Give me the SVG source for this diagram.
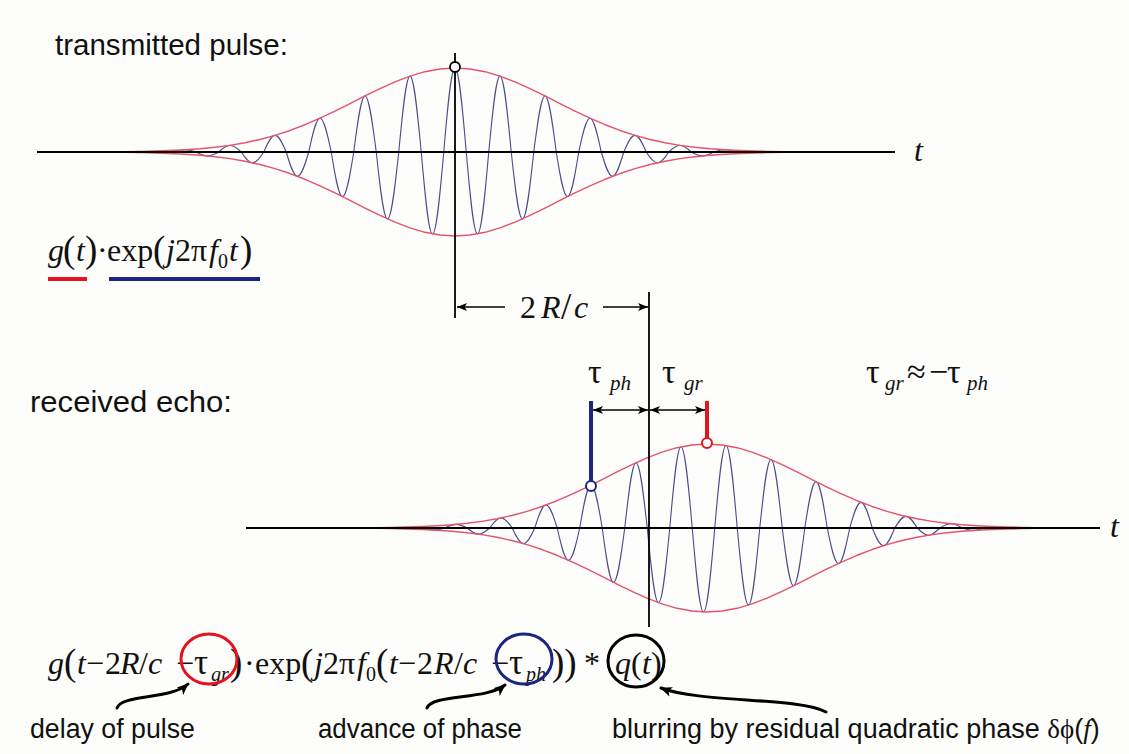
<svg xmlns="http://www.w3.org/2000/svg" width="1129" height="754" viewBox="0 0 1129 754">
<style>
.bg{fill:#fdfdfb}
.env{fill:none;stroke:#e2546c;stroke-width:1.4;stroke-linejoin:round}
.car{fill:none;stroke:#4d4d8e;stroke-width:1.1}
.axis{stroke:#000;stroke-width:2;fill:none}
.vline{stroke:#000;stroke-width:1.8;fill:none}
.dim{stroke:#000;stroke-width:1.6;fill:none}
.curve{stroke:#000;stroke-width:3;fill:none;stroke-linecap:round}
.sans{font-family:"Liberation Sans",Arial,sans-serif;fill:#111}
.title{font-size:29px}
.lab{font-size:27px}
.math{font-family:"Liberation Serif","Times New Roman",serif;font-size:32px;fill:#111}
.it{font-style:italic}
.sub{font-size:20px}
.big{font-size:37px}
.tau{font-size:35px}
.greek{font-family:"Liberation Serif","Times New Roman",serif;font-size:34px;fill:#111}
.gsub{font-size:21px;font-style:italic}
</style>
<defs>
<marker id="ah" markerWidth="10" markerHeight="8" refX="10" refY="4" orient="auto-start-reverse" markerUnits="userSpaceOnUse"><path d="M0,0 L10,4 L0,8 L2.5,4 z" fill="#000"/></marker>
<marker id="ah2" markerWidth="12" markerHeight="10" refX="11" refY="5" orient="auto" markerUnits="userSpaceOnUse"><path d="M0,0 L12,5 L0,10 L3,5 z" fill="#000"/></marker>
<path id="envUp" d="M-345,-0.2 L-330,-0.36 L-315,-0.59 L-300,-0.93 L-285,-1.45 L-270,-2.19 L-255,-3.25 L-240,-4.71 L-225,-6.68 L-210,-9.26 L-195,-12.55 L-180,-16.62 L-165,-21.53 L-150,-27.27 L-135,-33.77 L-120,-40.89 L-105,-48.40 L-90,-56.03 L-75,-63.41 L-60,-70.16 L-45,-75.91 L-30,-80.30 L-15,-83.06 L0,-84 L15,-83.06 L30,-80.30 L45,-75.91 L60,-70.16 L75,-63.41 L90,-56.03 L105,-48.40 L120,-40.89 L135,-33.77 L150,-27.27 L165,-21.53 L180,-16.62 L195,-12.55 L210,-9.26 L225,-6.68 L240,-4.71 L255,-3.25 L270,-2.19 L285,-1.45 L300,-0.93 L315,-0.59 L330,-0.36 L345,-0.2"/>
</defs>
<rect class="bg" x="0" y="0" width="1129" height="754"/>

<g id="transmitted-pulse">
<g transform="translate(455,152)">
<path class="car" d="M-281.25,0 C-277.58,-1.12 -274.07,-2.19 -270,-2.19 C-265.93,-2.19 -262.42,-1.12 -258.75,0 C-255.08,2.01 -251.57,3.93 -247.5,3.93 C-243.43,3.93 -239.92,2.01 -236.25,0 C-232.58,-3.42 -229.07,-6.68 -225,-6.68 C-220.93,-6.68 -217.42,-3.42 -213.75,0 C-210.08,5.54 -206.57,10.81 -202.5,10.81 C-198.43,10.81 -194.92,5.54 -191.25,0 C-187.58,-8.51 -184.07,-16.62 -180,-16.62 C-175.93,-16.62 -172.42,-8.51 -168.75,0 C-165.08,12.45 -161.57,24.30 -157.5,24.30 C-153.43,24.30 -149.92,12.45 -146.25,0 C-142.58,-17.30 -139.07,-33.77 -135,-33.77 C-130.93,-33.77 -127.42,-17.30 -123.75,0 C-120.08,22.85 -116.57,44.61 -112.5,44.61 C-108.43,44.61 -104.92,22.85 -101.25,0 C-97.58,-28.70 -94.07,-56.03 -90,-56.03 C-85.93,-56.03 -82.42,-28.70 -78.75,0 C-75.08,34.27 -71.57,66.89 -67.5,66.89 C-63.43,66.89 -59.92,34.27 -56.25,0 C-52.58,-38.89 -49.07,-75.91 -45,-75.91 C-40.93,-75.91 -37.42,-38.89 -33.75,0 C-30.08,41.96 -26.57,81.90 -22.5,81.90 C-18.43,81.90 -14.92,41.96 -11.25,0 C-7.58,-43.03 -4.07,-84 0,-84 C4.07,-84 7.58,-43.03 11.25,0 C14.92,41.96 18.43,81.90 22.5,81.90 C26.57,81.90 30.08,41.96 33.75,0 C37.42,-38.89 40.93,-75.91 45,-75.91 C49.07,-75.91 52.58,-38.89 56.25,0 C59.92,34.27 63.43,66.89 67.5,66.89 C71.57,66.89 75.08,34.27 78.75,0 C82.42,-28.70 85.93,-56.03 90,-56.03 C94.07,-56.03 97.58,-28.70 101.25,0 C104.92,22.85 108.43,44.61 112.5,44.61 C116.57,44.61 120.08,22.85 123.75,0 C127.42,-17.30 130.93,-33.77 135,-33.77 C139.07,-33.77 142.58,-17.30 146.25,0 C149.92,12.45 153.43,24.30 157.5,24.30 C161.57,24.30 165.08,12.45 168.75,0 C172.42,-8.51 175.93,-16.62 180,-16.62 C184.07,-16.62 187.58,-8.51 191.25,0 C194.92,5.54 198.43,10.81 202.5,10.81 C206.57,10.81 210.08,5.54 213.75,0 C217.42,-3.42 220.93,-6.68 225,-6.68 C229.07,-6.68 232.58,-3.42 236.25,0 C239.92,2.01 243.43,3.93 247.5,3.93 C251.57,3.93 255.08,2.01 258.75,0 C262.42,-1.12 265.93,-2.19 270,-2.19 C274.07,-2.19 277.58,-1.12 281.25,0"/>
<use href="#envUp" class="env"/>
<use href="#envUp" class="env" transform="scale(1,-1)"/>
</g>
<line class="axis" x1="37" y1="152" x2="895" y2="152"/>
<line class="vline" x1="455" y1="53" x2="455" y2="318"/>
<circle cx="455" cy="67" r="5" fill="#fff" stroke="#000" stroke-width="1.8"/>
<text class="math it" x="914" y="161">t</text>
</g>

<g id="received-echo">
<g transform="translate(591,528)">
<path class="car" d="M-168.75,0 C-165.08,1.02 -161.57,2.00 -157.5,2.00 C-153.43,2.00 -149.92,1.02 -146.25,0 C-142.58,-1.84 -139.07,-3.60 -135,-3.60 C-130.93,-3.60 -127.42,-1.84 -123.75,0 C-120.08,3.16 -116.57,6.17 -112.5,6.17 C-108.43,6.17 -104.92,3.16 -101.25,0 C-97.58,-5.15 -94.07,-10.06 -90,-10.06 C-85.93,-10.06 -82.42,-5.15 -78.75,0 C-75.08,7.99 -71.57,15.60 -67.5,15.60 C-63.43,15.60 -59.92,7.99 -56.25,0 C-52.58,-11.77 -49.07,-22.98 -45,-22.98 C-40.93,-22.98 -37.42,-11.77 -33.75,0 C-30.08,16.49 -26.57,32.19 -22.5,32.19 C-18.43,32.19 -14.92,16.49 -11.25,0 C-7.58,-21.96 -4.07,-42.86 0,-42.86 C4.07,-42.86 7.58,-21.96 11.25,0 C14.92,27.79 18.43,54.25 22.5,54.25 C26.57,54.25 30.08,27.79 33.75,0 C37.42,-33.45 40.93,-65.29 45,-65.29 C49.07,-65.29 52.58,-33.45 56.25,0 C59.92,38.26 63.43,74.68 67.5,74.68 C71.57,74.68 75.08,38.26 78.75,0 C82.42,-41.60 85.93,-81.21 90,-81.21 C94.07,-81.21 97.58,-41.60 101.25,0 C104.92,43.01 108.43,83.95 112.5,83.95 C116.57,83.95 120.08,43.01 123.75,0 C127.42,-42.26 130.93,-82.50 135,-82.50 C139.07,-82.50 142.58,-42.26 146.25,0 C149.92,39.48 153.43,77.07 157.5,77.07 C161.57,77.07 165.08,39.48 168.75,0 C172.42,-35.06 175.93,-68.44 180,-68.44 C184.07,-68.44 187.58,-35.06 191.25,0 C194.92,29.60 198.43,57.78 202.5,57.78 C206.57,57.78 210.08,29.60 213.75,0 C217.42,-23.76 220.93,-46.38 225,-46.38 C229.07,-46.38 232.58,-23.76 236.25,0 C239.92,18.13 243.43,35.38 247.5,35.38 C251.57,35.38 255.08,18.13 258.75,0 C262.42,-13.15 265.93,-25.66 270,-25.66 C274.07,-25.66 277.58,-13.15 281.25,0 C284.92,9.06 288.43,17.69 292.5,17.69 C296.57,17.69 300.08,9.06 303.75,0 C307.42,-5.94 310.93,-11.60 315,-11.60 C319.07,-11.60 322.58,-5.94 326.25,0 C329.92,3.70 333.43,7.23 337.5,7.23 C341.57,7.23 345.08,3.70 348.75,0 C352.42,-2.19 355.93,-4.28 360,-4.28 C364.07,-4.28 367.58,-2.19 371.25,0 C374.92,1.23 378.43,2.41 382.5,2.41 C386.57,2.41 390.08,1.23 393.75,0"/>
</g>
<g transform="translate(707,528)">
<use href="#envUp" class="env"/>
<use href="#envUp" class="env" transform="scale(1,-1)"/>
</g>
<line class="axis" x1="246" y1="528" x2="1100" y2="528"/>
<line class="vline" x1="649" y1="292" x2="649" y2="627"/>
<line x1="591" y1="401" x2="591" y2="481" stroke="#1b2580" stroke-width="4"/>
<line x1="707" y1="401" x2="707" y2="438" stroke="#e4141e" stroke-width="4"/>
<circle cx="591" cy="486" r="5" fill="#fff" stroke="#1b2580" stroke-width="2"/>
<circle cx="707" cy="443" r="5" fill="#fff" stroke="#e4141e" stroke-width="2"/>
<text class="math it" x="1110" y="537">t</text>
</g>

<g id="titles">
<text class="sans title" x="55" y="55" textLength="233" lengthAdjust="spacingAndGlyphs">transmitted pulse:</text>
<text class="sans title" x="30" y="412" textLength="202" lengthAdjust="spacingAndGlyphs">received echo:</text>
</g>

<g id="formula-transmitted">
<text class="math" y="261"><tspan class="it" x="48">g</tspan><tspan class="big" x="63" y="262">(</tspan><tspan class="it" x="76" y="261">t</tspan><tspan class="big" x="85" y="262">)</tspan></text>
<text class="math" y="261"><tspan x="97">·</tspan></text>
<text class="math" y="261"><tspan x="107">exp</tspan><tspan class="big" x="153" y="262">(</tspan><tspan class="it" x="166" y="261">j</tspan><tspan x="175">2π</tspan><tspan class="it" x="209">f</tspan><tspan class="sub" x="218" y="268">0</tspan><tspan class="it" x="229" y="261">t</tspan><tspan class="big" x="240" y="262">)</tspan></text>
<line x1="48" y1="279" x2="87" y2="279" stroke="#e4141e" stroke-width="4"/>
<line x1="109" y1="279" x2="260" y2="279" stroke="#1b2580" stroke-width="4"/>
</g>

<g id="delay-labels">
<text class="math" y="318"><tspan x="520">2</tspan><tspan class="it" x="541">R</tspan><tspan class="big" x="561" y="319">/</tspan><tspan class="it" x="574" y="318">c</tspan></text>
<text class="greek" y="383"><tspan x="588">τ</tspan><tspan class="gsub" x="610" y="390">ph</tspan></text>
<text class="greek" y="383"><tspan x="662">τ</tspan><tspan class="gsub" x="684" y="390">gr</tspan></text>
<text class="greek" y="383"><tspan x="866">τ</tspan><tspan class="gsub" x="885" y="390">gr</tspan><tspan x="907" y="383">≈</tspan><tspan x="929">−</tspan><tspan x="947">τ</tspan><tspan class="gsub" x="967" y="390">ph</tspan></text>
</g>

<g id="formula-received">
<text class="math" y="674"><tspan class="it" x="48">g</tspan><tspan class="big" x="64" y="675">(</tspan><tspan class="it" x="77" y="674">t</tspan><tspan x="86">−</tspan><tspan x="105">2</tspan><tspan class="it" x="120">R</tspan><tspan x="139">/</tspan><tspan class="it" x="148">c</tspan></text>
<text class="math" y="674"><tspan x="176">−</tspan></text>
<text class="math" y="674"><tspan class="tau" x="194">τ</tspan><tspan class="it sub" x="211" y="681">gr</tspan></text>
<text class="math" y="674"><tspan class="big" x="230" y="675">)</tspan></text>
<text class="math" y="674"><tspan x="244">·</tspan></text>
<text class="math" y="674"><tspan x="255">exp</tspan><tspan class="big" x="301" y="675">(</tspan><tspan class="it" x="314" y="674">j</tspan><tspan x="323">2π</tspan><tspan class="it" x="357">f</tspan><tspan class="sub" x="366" y="681">0</tspan><tspan class="big" x="376" y="675">(</tspan><tspan class="it" x="389" y="674">t</tspan><tspan x="398">−</tspan><tspan x="417">2</tspan><tspan class="it" x="434">R</tspan><tspan x="454">/</tspan><tspan class="it" x="463">c</tspan></text>
<text class="math" y="674"><tspan x="491">−</tspan></text>
<text class="math" y="674"><tspan class="tau" x="509">τ</tspan><tspan class="it sub" x="526" y="681">ph</tspan></text>
<text class="math" y="674"><tspan class="big" x="552" y="675">))</tspan></text>
<text class="math" y="674"><tspan x="584">*</tspan></text>
<text class="math" y="674"><tspan class="it" x="615">q</tspan><tspan x="631">(</tspan><tspan class="it" x="642">t</tspan><tspan x="651">)</tspan></text>
<ellipse cx="209" cy="659" rx="28" ry="25" fill="none" stroke="#e4141e" stroke-width="3"/>
<ellipse cx="524" cy="659" rx="28" ry="25" fill="none" stroke="#1b2580" stroke-width="3"/>
<ellipse cx="636" cy="661" rx="28" ry="26" fill="none" stroke="#000" stroke-width="3"/>
</g>

<g id="bottom-labels">
<text class="sans lab" x="30" y="738" textLength="165" lengthAdjust="spacingAndGlyphs">delay of pulse</text>
<text class="sans lab" x="318" y="738" textLength="204" lengthAdjust="spacingAndGlyphs">advance of phase</text>
<text class="sans lab" x="612" y="738">blurring by residual quadratic phase <tspan font-family="Liberation Serif, serif">δϕ</tspan>(<tspan font-family="Liberation Serif, serif" font-style="italic">f</tspan>)</text>
</g>

<g id="connectors">
<line class="dim" x1="505" y1="307" x2="457" y2="307" marker-end="url(#ah)"/>
<line class="dim" x1="603" y1="307" x2="648" y2="307" marker-end="url(#ah)"/>
<line class="dim" x1="593" y1="410" x2="648" y2="410" marker-start="url(#ah)" marker-end="url(#ah)"/>
<line class="dim" x1="650" y1="410" x2="705" y2="410" marker-start="url(#ah)" marker-end="url(#ah)"/>
<path class="curve" d="M117,708 C122,694 170,700 188,684" marker-end="url(#ah2)"/>
<path class="curve" d="M427,708 C432,694 487,700 505,685" marker-end="url(#ah2)"/>
<path class="curve" d="M826,712 C800,697 700,703 661,688" marker-end="url(#ah2)"/>
</g>
</svg>
